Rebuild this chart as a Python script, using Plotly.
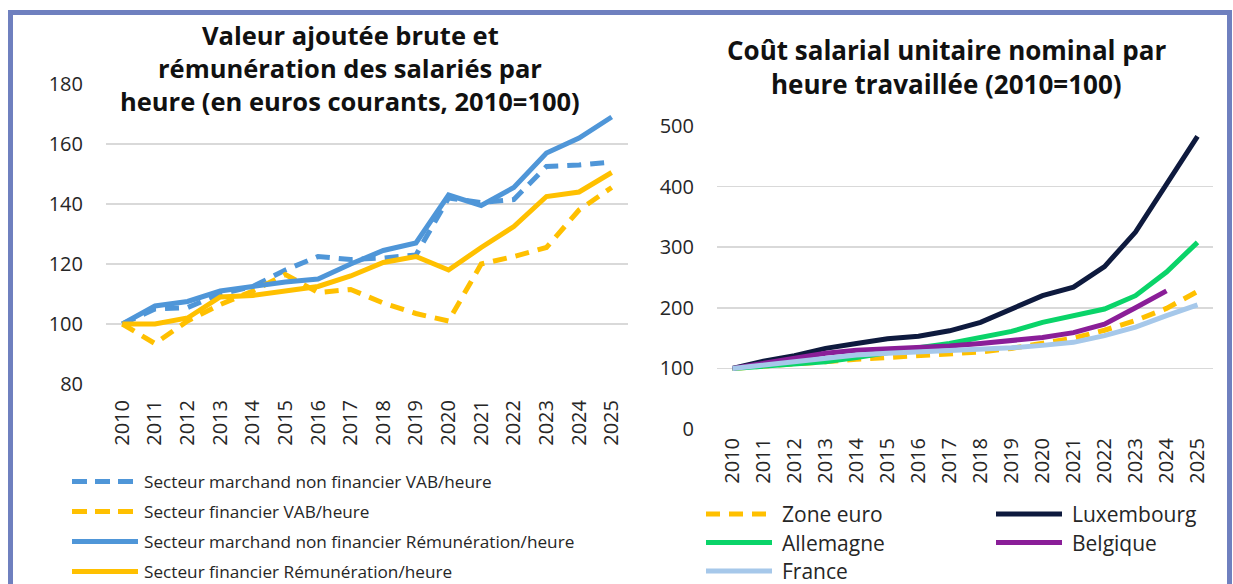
import plotly.graph_objects as go

# ---------------- data ----------------
years = [str(y) for y in range(2010, 2026)]

# Left chart (2010=100)
vab_nf = [100, 105, 105.5, 110, 112.5, 118, 122.5, 121.5, 122, 123, 142, 140.5, 141.5, 152.5, 153, 154]
vab_fin = [100, 93.5, 101, 106.5, 111, 116.5, 110.5, 111.5, 107, 103.5, 101, 120, 122.5, 125.5, 138, 145.5]
rem_nf = [100, 106, 107.5, 111, 112.5, 114, 115, 120, 124.5, 127, 143, 139.5, 145.5, 157, 162, 169]
rem_fin = [100, 100, 102, 109, 109.5, 111, 112.5, 116, 120.5, 122.5, 118, 125.5, 132.5, 142.5, 144, 150.5]

left_names = [
    "Secteur marchand non financier VAB/heure",
    "Secteur financier VAB/heure",
    "Secteur marchand non financier Rémunération/heure",
    "Secteur financier Rémunération/heure",
]

# Right chart (2010=100)
zone_euro = [100, 103, 107, 111, 115, 118, 120, 123, 127, 133, 142, 150, 163, 179, 199, 227]
luxembourg = [100, 112, 121, 133, 141, 149, 153, 162, 176, 199, 220, 234, 268, 325, 405, 483]
allemagne = [100, 103, 106, 111, 118, 127, 134, 141, 151, 161, 176, 187, 198, 220, 259, 308]
belgique = [100, 109, 117, 125, 130, 132, 134, 137, 141, 146, 151, 159, 173, 200, 228, None]
france = [100, 106, 112, 117, 122, 125, 127, 128.5, 131, 134, 138, 143, 154, 168, 187, 205]

right_names = ["Zone euro", "Luxembourg", "Allemagne", "Belgique", "France"]

# ---------------- styling ----------------
W, H = 1233, 584
FONT = "Open Sans"
BLUE = "#4F96D8"
YELLOW = "#FFC000"
NAVY = "#0E1A3E"
GREEN = "#0AD469"
PURPLE = "#8A1E98"
LIGHTBLUE = "#A6C8EA"
GRID = "#D9D9D9"
TXT = "#262626"
DASH = "14px,9px"
LW = 5


def fx(x):
    return x / W


def fy(y):
    return 1 - y / H


fig = go.Figure()

left_series = [
    (left_names[0], vab_nf, BLUE, DASH),
    (left_names[1], vab_fin, YELLOW, DASH),
    (left_names[2], rem_nf, BLUE, "solid"),
    (left_names[3], rem_fin, YELLOW, "solid"),
]
for name, vals, col, dash in left_series:
    fig.add_trace(go.Scatter(x=years, y=vals, name=name, mode="lines",
                             line=dict(color=col, width=LW, dash=dash),
                             xaxis="x", yaxis="y", showlegend=False))

right_series = [
    (right_names[0], zone_euro, YELLOW, DASH),
    (right_names[1], luxembourg, NAVY, "solid"),
    (right_names[2], allemagne, GREEN, "solid"),
    (right_names[3], belgique, PURPLE, "solid"),
    (right_names[4], france, LIGHTBLUE, "solid"),
]
for name, vals, col, dash in right_series:
    fig.add_trace(go.Scatter(x=years, y=vals, name=name, mode="lines",
                             line=dict(color=col, width=LW, dash=dash),
                             xaxis="x2", yaxis="y2", showlegend=False))

tickfont = dict(family=FONT, size=20, color=TXT)
common_x = dict(type="category", range=[-0.5, 15.5], tickangle=-90, showgrid=False,
                showline=False, zeroline=False, tickfont=tickfont, ticks="", automargin=False)
common_y = dict(showline=False, zeroline=False, gridcolor=GRID, gridwidth=1.5,
                tickfont=tickfont, ticks="", ticklabelstandoff=22, automargin=False)

fig.update_layout(
    width=W, height=H, autosize=False,
    margin=dict(l=0, r=0, t=0, b=0, pad=0, autoexpand=False),
    paper_bgcolor="white", plot_bgcolor="white",
    font=dict(family=FONT, color=TXT),
    xaxis=dict(domain=[fx(106), fx(628)], anchor="y", ticklabelstandoff=11, **common_x),
    yaxis=dict(domain=[fy(384), fy(84)], anchor="x", range=[80, 180], dtick=20, **common_y),
    xaxis2=dict(domain=[fx(717), fx(1213)], anchor="y2", ticklabelstandoff=4, **common_x),
    yaxis2=dict(domain=[fy(429), fy(126)], anchor="x2", range=[0, 500], dtick=100, **common_y),
    showlegend=False,
    hovermode=False,
)

shapes = []
annotations = []

# Outer frame
shapes.append(dict(type="rect", xref="paper", yref="paper",
                   x0=fx(10.5), x1=fx(1229.5), y0=fy(600), y1=fy(12.5),
                   line=dict(color="#6F80BF", width=5), fillcolor="rgba(0,0,0,0)", layer="below"))

# Titles
left_title = ["Valeur ajoutée brute et", "rémunération des salariés par",
              "heure (en euros courants, 2010=100)"]
for i, t in enumerate(left_title):
    annotations.append(dict(text="<b>%s</b>" % t, xref="paper", yref="paper",
                            x=fx(350), y=fy(35 + 33 * i), showarrow=False,
                            xanchor="center", yanchor="middle",
                            font=dict(family=FONT, size=25.5, color="#111111")))
right_title = ["Coût salarial unitaire nominal par", "heure travaillée (2010=100)"]
for i, t in enumerate(right_title):
    annotations.append(dict(text="<b>%s</b>" % t, xref="paper", yref="paper",
                            x=fx(946), y=fy(50 + 34 * i), showarrow=False,
                            xanchor="center", yanchor="middle",
                            font=dict(family=FONT, size=26, color="#111111")))

# Left legend
for i, (name, vals, col, dash) in enumerate(left_series):
    yy = 481.5 + 30 * i
    shapes.append(dict(type="line", xref="paper", yref="paper",
                       x0=fx(72), x1=fx(138), y0=fy(yy), y1=fy(yy),
                       line=dict(color=col, width=LW, dash="15px,8px" if dash != "solid" else dash)))
    annotations.append(dict(text=name, xref="paper", yref="paper", x=fx(142), y=fy(yy),
                            showarrow=False, xanchor="left", yanchor="middle",
                            font=dict(family=FONT, size=17.2, color=TXT)))

# Right legend (two columns)
for i, (name, vals, col, dash) in enumerate(right_series):
    row, colidx = divmod(i, 2)
    yy = 514 + 28.5 * row
    x0 = 706 if colidx == 0 else 996
    shapes.append(dict(type="line", xref="paper", yref="paper",
                       x0=fx(x0), x1=fx(x0 + 66), y0=fy(yy), y1=fy(yy),
                       line=dict(color=col, width=LW, dash=dash)))
    annotations.append(dict(text=name, xref="paper", yref="paper", x=fx(x0 + 74), y=fy(yy),
                            showarrow=False, xanchor="left", yanchor="middle",
                            font=dict(family=FONT, size=21, color=TXT)))

fig.update_layout(shapes=shapes, annotations=annotations)
fig.write_html(
    "out.html",
    config={"displayModeBar": False, "staticPlot": True},
    post_script="document.body.style.margin='0';document.body.style.padding='0';"
                "document.body.style.overflow='hidden';",
)
